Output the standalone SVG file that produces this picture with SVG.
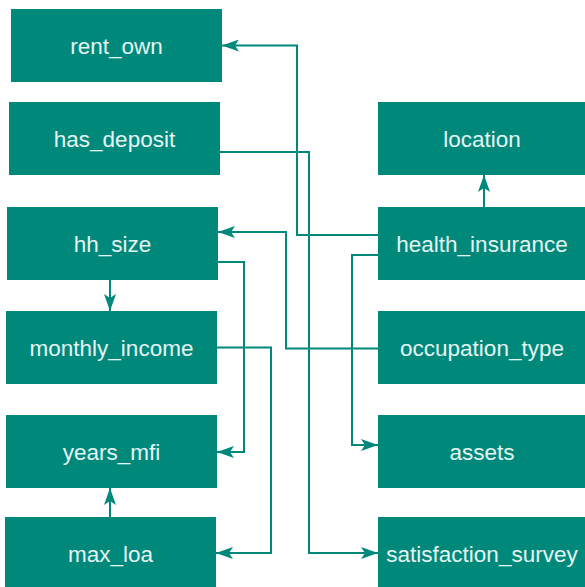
<svg xmlns="http://www.w3.org/2000/svg" width="585" height="587" viewBox="0 0 585 587">
<style>
.n rect{fill:#00897b;}
.n text{fill:#e6f4f2;font-family:"Liberation Sans",Arial,sans-serif;font-size:22.5px;text-anchor:middle;}
.c path{fill:none;stroke:#00897b;stroke-width:2;marker-end:url(#ah);}
</style>
<defs>
<marker id="ah" viewBox="0 0 17 12" refX="17" refY="6" markerWidth="17" markerHeight="12" markerUnits="userSpaceOnUse" orient="auto">
<path d="M0,0 L17,6 L0,12 L4,6 Z" fill="#00897b"/>
</marker>
</defs>
<rect width="585" height="587" fill="#ffffff"/>
<g class="c">
<path d="M378,235 H297 V45.5 H222"/>
<path d="M220,152 H309 V553 H378"/>
<path d="M484,207 V175"/>
<path d="M378,348.5 H286 V232 H218"/>
<path d="M378,255 H352 V445 H378"/>
<path d="M218,262 H244 V452 H217"/>
<path d="M217,347.5 H271 V553 H216"/>
<path d="M110,280 V311"/>
<path d="M110,517 V488"/>
</g>
<g id="rent_own" class="n"><rect x="11" y="9" width="211" height="73"/><text x="116.5" y="54">rent_own</text></g>
<g id="has_deposit" class="n"><rect x="9" y="102" width="211" height="73"/><text x="114.5" y="147">has_deposit</text></g>
<g id="hh_size" class="n"><rect x="7" y="207" width="211" height="73"/><text x="112.5" y="252">hh_size</text></g>
<g id="monthly_income" class="n"><rect x="6" y="311" width="211" height="73"/><text x="111.5" y="356">monthly_income</text></g>
<g id="years_mfi" class="n"><rect x="6" y="415" width="211" height="73"/><text x="111.5" y="460">years_mfi</text></g>
<g id="max_loa" class="n"><rect x="5" y="517" width="211" height="70"/><text x="110.5" y="562">max_loa</text></g>
<g id="location" class="n"><rect x="378" y="102" width="207" height="73"/><text x="482" y="147">location</text></g>
<g id="health_insurance" class="n"><rect x="378" y="207" width="207" height="73"/><text x="482" y="252">health_insurance</text></g>
<g id="occupation_type" class="n"><rect x="378" y="311" width="207" height="73"/><text x="482" y="356">occupation_type</text></g>
<g id="assets" class="n"><rect x="378" y="415" width="207" height="73"/><text x="482" y="460">assets</text></g>
<g id="satisfaction_survey" class="n"><rect x="378" y="517" width="207" height="70"/><text x="482" y="562">satisfaction_survey</text></g>
</svg>
